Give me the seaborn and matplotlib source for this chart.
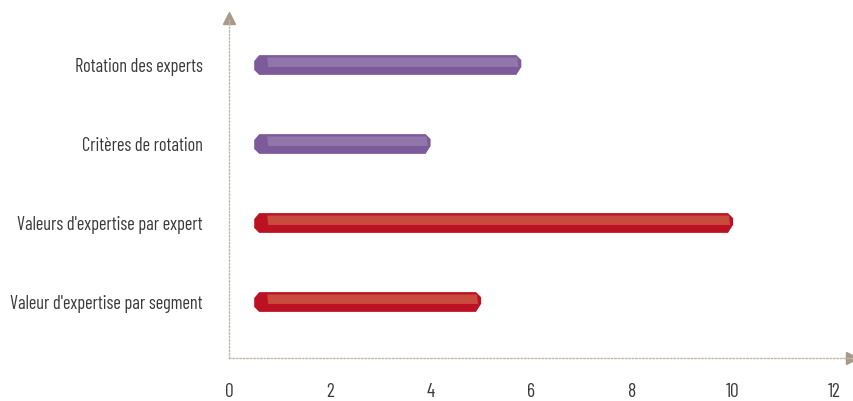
import matplotlib
matplotlib.use("Agg")
import matplotlib.pyplot as plt
import seaborn as sns
import pandas as pd
from matplotlib.patches import Polygon, Rectangle

categories = ["Rotation des experts", "Critères de rotation",
              "Valeurs d'expertise par expert", "Valeur d'expertise par segment"]
values = [5.8, 4.0, 10.0, 5.0]
groups = ["purple", "purple", "red", "red"]
x_ticks = [0, 2, 4, 6, 8, 10, 12]

dark = {"purple": "#7D5A9A", "red": "#BC1023"}
light = {"purple": "#9076AB", "red": "#C94B3D"}

sns.set_theme(style="white")
plt.rcParams["font.family"] = ["Barlow Condensed", "DejaVu Sans"]

df = pd.DataFrame({"cat": categories, "val": values, "grp": groups})

fig = plt.figure(figsize=(8.54, 4.01), dpi=100)
ax = fig.add_axes([229 / 854, (401 - 358) / 401, 623 / 854, 340 / 401])

start = 0.5
df["len"] = df["val"] - start
sns.barplot(data=df, y="cat", x="len", hue="grp", palette=dark, orient="h",
            left=start, width=0.25, dodge=False, legend=False, saturation=1, ax=ax)

# reshape bars into prism-like shapes
px = 1 / 50.4
bars = [p for p in ax.patches if isinstance(p, Rectangle)]
for p, g in zip(sorted(bars, key=lambda r: r.get_y()), df.sort_index()["grp"]):
    x0, y0, w, h = p.get_x(), p.get_y(), p.get_width(), p.get_height()
    x1 = x0 + w
    y1 = y0 + h
    c = 5 * px
    col = p.get_facecolor()
    p.set_visible(False)
    hexa = Polygon([(x0 + c, y0), (x1 - c, y0), (x1, y0 + 0.25 * h), (x1, y0 + 0.6 * h),
                    (x1 - c, y1), (x0 + c, y1), (x0, y0 + 0.75 * h), (x0, y0 + 0.3 * h)],
                   closed=True, facecolor=col, edgecolor="none", zorder=3)
    ax.add_patch(hexa)
    face = Polygon([(x0 + 13 * px, y0 + 0.12 * h), (x1 - 4 * px, y0 + 0.12 * h),
                    (x1 - 3 * px, y0 + 0.6 * h), (x0 + 14 * px, y0 + 0.6 * h)],
                   closed=True, facecolor=light[g], edgecolor="none", zorder=4)
    ax.add_patch(face)

ax.set_xlim(0, 623 / 50.4)
ax.set_ylim(3 + 56 / 79, -47 / 79)
ax.set_xticks(x_ticks)
ax.set_xticklabels([str(t) for t in x_ticks])
ax.set_xlabel("")
ax.set_ylabel("")

for s in ["top", "right"]:
    ax.spines[s].set_visible(False)
axis_col = "#C4B8AC"
for s in ["left", "bottom"]:
    ax.spines[s].set_color(axis_col)
    ax.spines[s].set_linestyle((0, (1, 1.5)))
    ax.spines[s].set_linewidth(1.0)

ax.tick_params(axis="both", length=0, colors="#3A3A3A")
ax.tick_params(axis="y", labelsize=13.2, pad=19)
ax.tick_params(axis="x", labelsize=14, pad=18)

arrow_col = "#A89A8B"
ax.plot([0], [1], marker="^", markersize=9, color=arrow_col, transform=ax.transAxes,
        clip_on=False)
ax.plot([1], [0], marker=">", markersize=9, color=arrow_col, transform=ax.transAxes,
        clip_on=False)

fig.savefig("out.png", dpi=100)
